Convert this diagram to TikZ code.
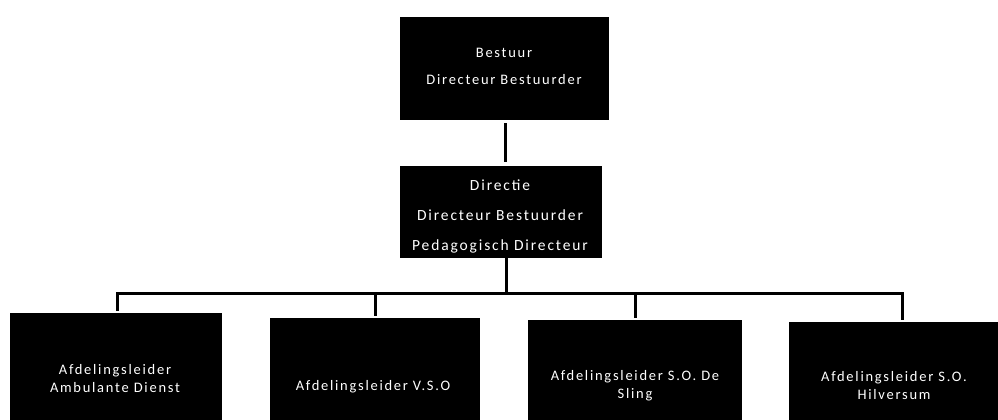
\documentclass[tikz,border=0pt]{standalone}
\usepackage{fontspec}
\setmainfont[LetterSpace=12]{Carlito}
\begin{document}
\begin{tikzpicture}[x=1pt,y=-1pt,
  box/.style={draw=black,fill=black,rectangle,inner sep=0pt},
  lbl/.style={text=white,font=\fontsize{14.5}{18}\selectfont,align=center,inner sep=0pt},
  conn/.style={draw=black,line width=3pt}]
\useasboundingbox[fill=white] (0,0) rectangle (998,420);
% boxes
\node[box,minimum width=208pt,minimum height=102pt] (top) at (504,68) {};
\node[box,minimum width=201pt,minimum height=91pt] (mid) at (500.5,211.5) {};
\node[box,minimum width=211pt,minimum height=106pt] (b1) at (115.5,366) {};
\node[box,minimum width=209pt,minimum height=102pt] (b2) at (374.5,369) {};
\node[box,minimum width=213pt,minimum height=100pt] (b3) at (634.5,370) {};
\node[box,minimum width=210pt,minimum height=98pt] (b4) at (894,371) {};
% labels
\node[lbl,font=\fontsize{14.5}{27}\selectfont] (ttop) at (504,66) {Bestuur\\Directeur Bestuurder};
\node[lbl,font=\fontsize{15.5}{30}\selectfont] (tmid) at (500,216) {Directie\\Directeur Bestuurder\\Pedagogisch Directeur};
\node[lbl] (tb1) at (115,379) {Afdelingsleider\\Ambulante Dienst};
\node[lbl] (tb2) at (373,387) {Afdelingsleider V.S.O};
\node[lbl] (tb3) at (635,386) {Afdelingsleider S.O. De\\Sling};
\node[lbl] (tb4) at (894,386) {Afdelingsleider S.O.\\Hilversum};
% connectors
\coordinate (bus) at (506,293);
\coordinate (bl) at (117,293);
\coordinate (br) at (902,293);
\coordinate (c2) at (375,293);
\coordinate (c3) at (635,293);
\draw[conn] ([yshift=-4pt]top.south -| 505,0) -- ([yshift=4pt]mid.north -| 505,0);
\draw[conn] (mid.south -| bus) -- (bus);
\draw[conn] ([yshift=2pt]bl |- b1.north) -- (bl) -- (br) -- ([yshift=2pt]br |- b4.north);
\draw[conn] (c2) -- ([yshift=2pt]c2 |- b2.north);
\draw[conn] (c3) -- ([yshift=2pt]c3 |- b3.north);
\end{tikzpicture}
\end{document}
